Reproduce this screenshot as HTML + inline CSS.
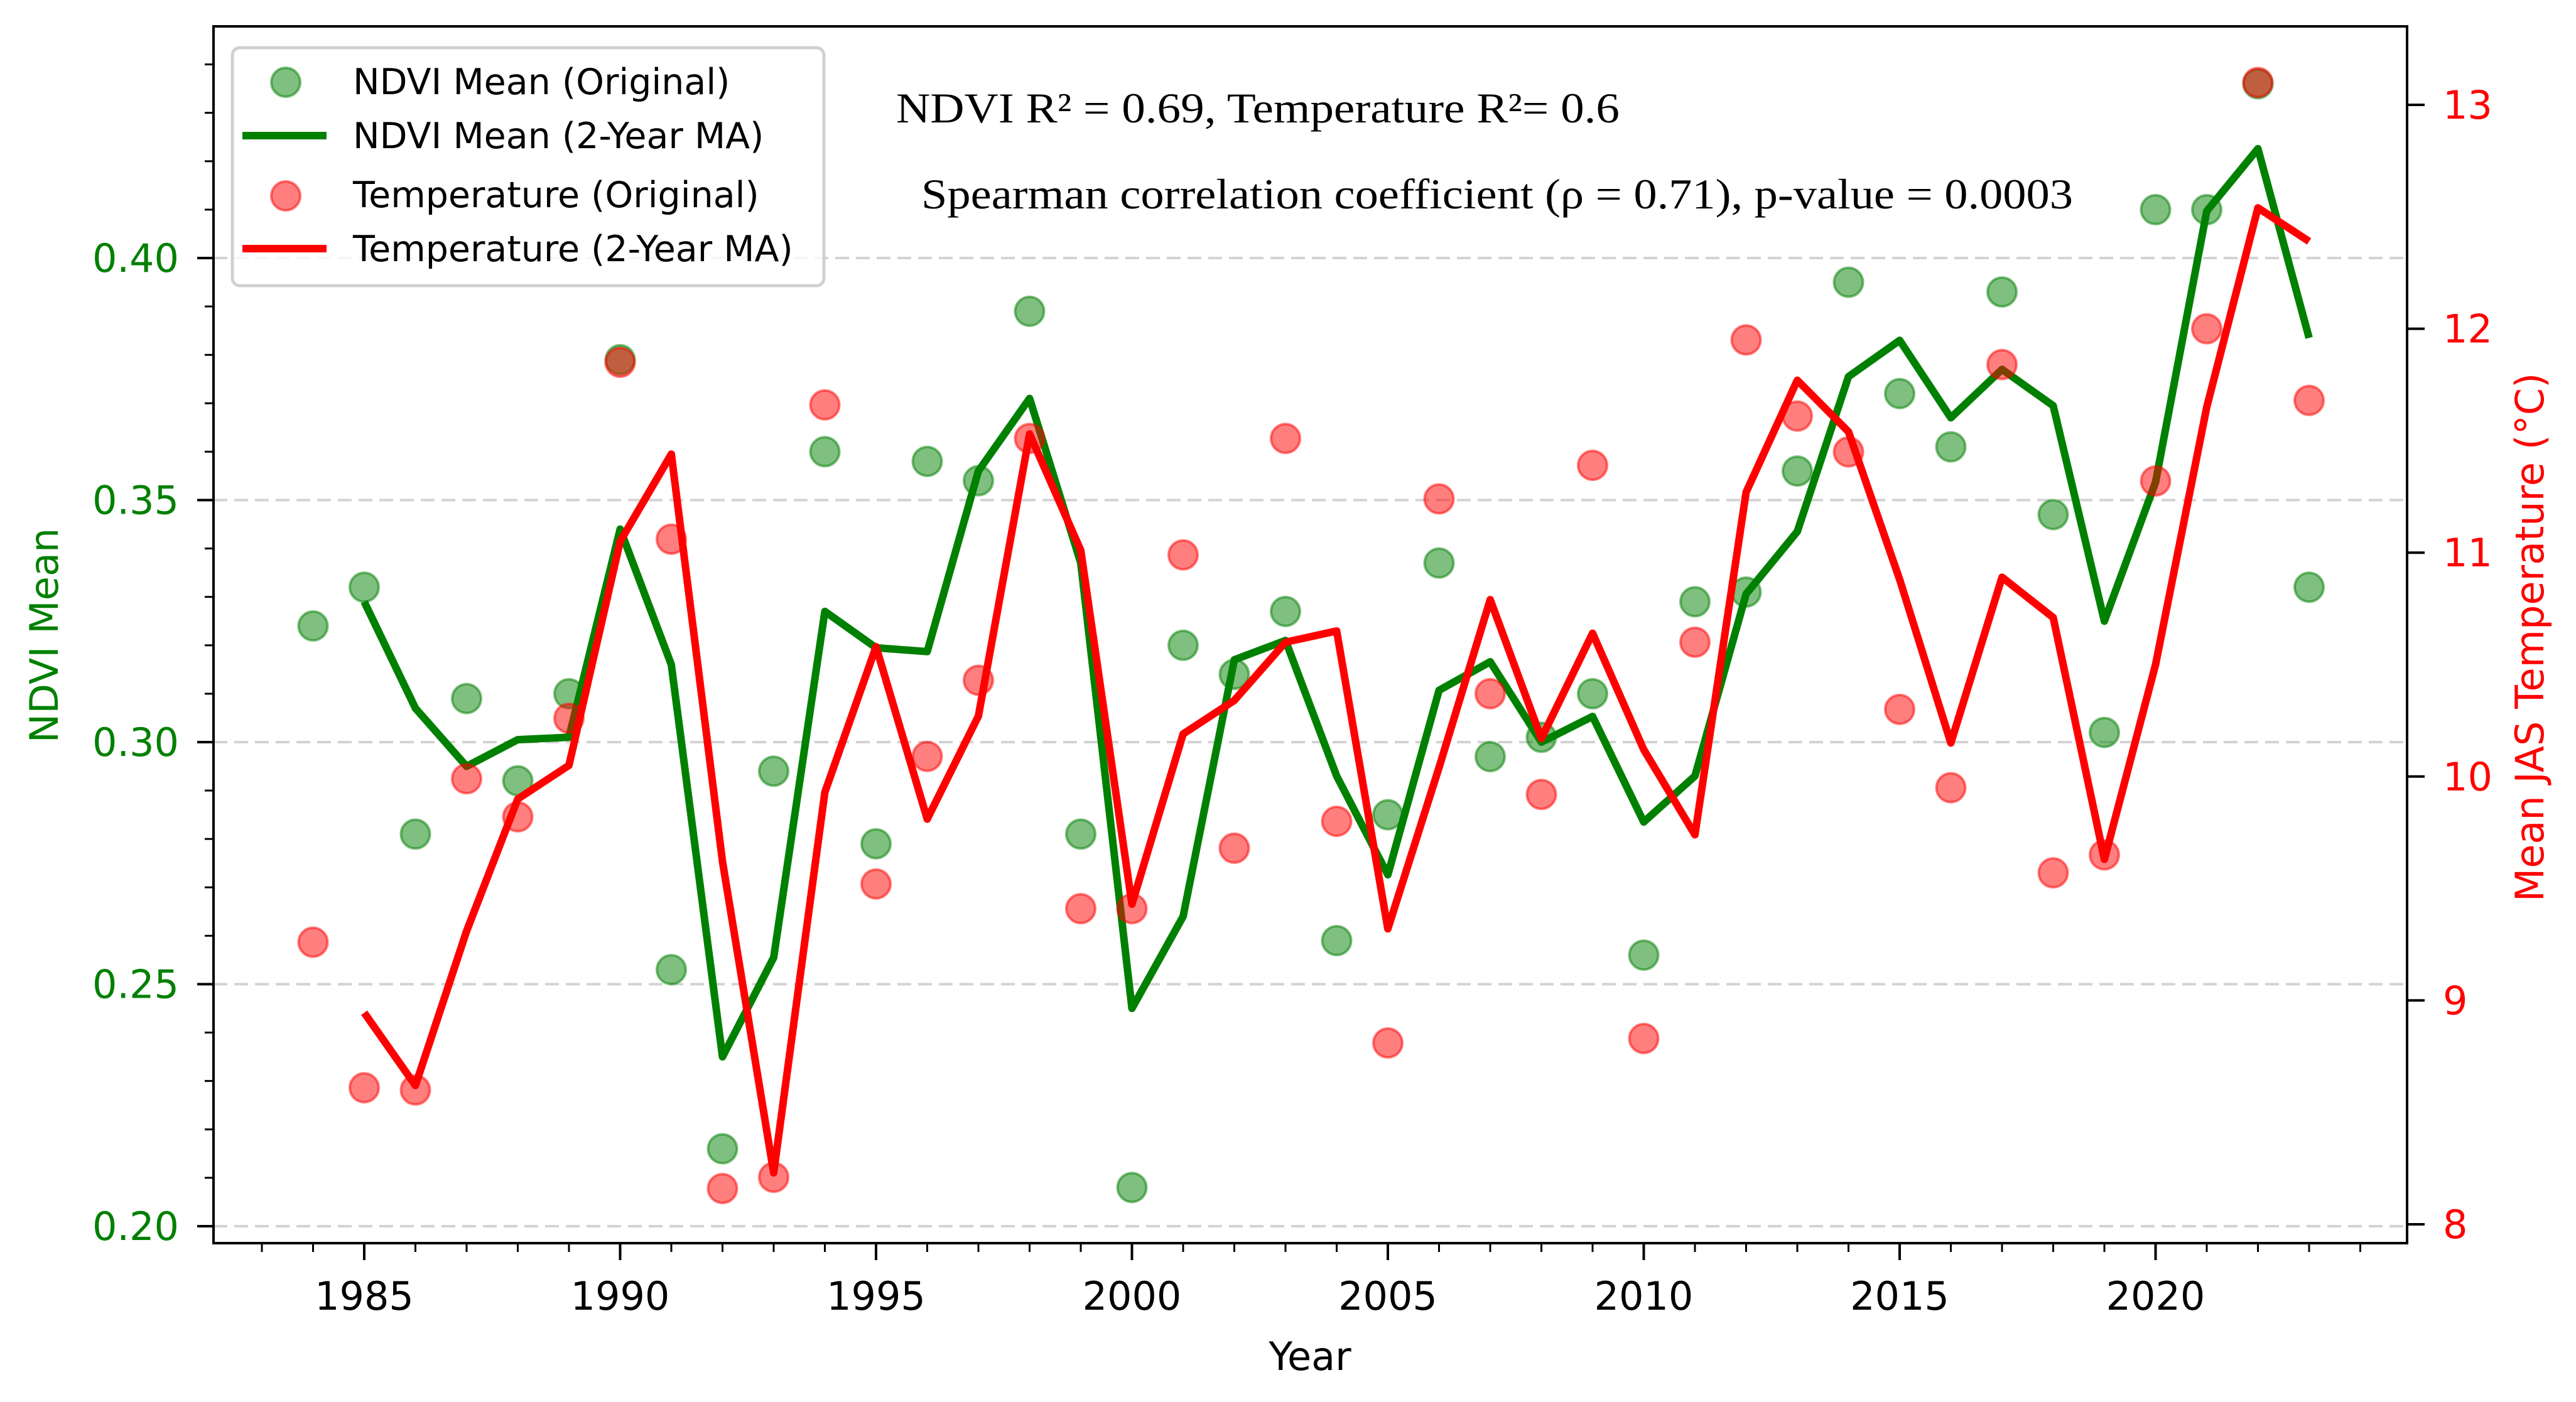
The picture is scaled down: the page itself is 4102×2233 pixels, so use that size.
<!DOCTYPE html>
<html><head><meta charset="utf-8"><style>
html,body{margin:0;padding:0;background:#fff;}
svg{display:block;}
text{font-family:"DejaVu Sans","Liberation Sans",sans-serif;}
text.serif{font-family:"Liberation Serif","DejaVu Serif",serif;}
</style></head><body>
<svg id="chart" xmlns="http://www.w3.org/2000/svg" width="4102" height="2233" viewBox="0 0 4102 2233">
<rect x="0" y="0" width="4102" height="2233" fill="#fff"/>
<g id="grid"></g>
<g id="series"></g>
<g id="axes"></g>
<text class="serif" style="font-family:'Liberation Serif',serif" x="1427" y="195" font-size="68" textLength="1152" lengthAdjust="spacingAndGlyphs" fill="#000">NDVI R² = 0.69, Temperature R²= 0.6</text>
<text class="serif" style="font-family:'Liberation Serif',serif" x="1467" y="332" font-size="68" textLength="1834" lengthAdjust="spacingAndGlyphs" fill="#000">Spearman correlation coefficient (ρ = 0.71), p-value = 0.0003</text>
<text x="2086" y="2182" font-size="62" text-anchor="middle" fill="#000">Year</text>
<text transform="translate(92,1012) rotate(-90)" font-size="62" text-anchor="middle" fill="#008000">NDVI Mean</text>
<text transform="translate(4050,1015) rotate(-90)" font-size="62" text-anchor="middle" fill="#ff0000">Mean JAS Temperature (°C)</text>
<g>
<rect x="370" y="76" width="942" height="379" rx="12" fill="#fff" fill-opacity="0.8" stroke="#d0d0d0" stroke-width="5"/>
<g>
<circle cx="455" cy="131" r="23" fill="#008000" fill-opacity="0.5" stroke="#008000" stroke-opacity="0.5" stroke-width="4"/>
<text x="562" y="150" font-size="57" fill="#000">NDVI Mean (Original)</text></g>
<g>
<line x1="386" y1="216" x2="520" y2="216" stroke="#008000" stroke-width="12"/>
<text x="562" y="236" font-size="57" fill="#000">NDVI Mean (2-Year MA)</text></g>
<g>
<circle cx="455" cy="312" r="23" fill="#ff0000" fill-opacity="0.5" stroke="#ff0000" stroke-opacity="0.5" stroke-width="4"/>
<text x="562" y="330" font-size="57" fill="#000">Temperature (Original)</text></g>
<g>
<line x1="386" y1="396" x2="520" y2="396" stroke="#ff0000" stroke-width="12"/>
<text x="562" y="416" font-size="57" fill="#000">Temperature (2-Year MA)</text></g>
</g>
</svg>
<script>
const years = [1984,1985,1986,1987,1988,1989,1990,1991,1992,1993,1994,1995,1996,1997,1998,1999,2000,2001,2002,2003,2004,2005,2006,2007,2008,2009,2010,2011,2012,2013,2014,2015,2016,2017,2018,2019,2020,2021,2022,2023];
const ndviOriginal = [0.324,0.332,0.281,0.309,0.292,0.310,0.379,0.253,0.216,0.294,0.360,0.279,0.358,0.354,0.389,0.281,0.208,0.320,0.314,0.327,0.259,0.285,0.337,0.297,0.301,0.310,0.256,0.329,0.331,0.356,0.395,0.372,0.361,0.393,0.347,0.302,0.410,0.410,0.436,0.332];
const ndviMA = [null,0.329,0.307,0.295,0.3005,0.301,0.344,0.316,0.235,0.2555,0.327,0.3195,0.3187,0.356,0.371,0.337,0.245,0.264,0.317,0.321,0.293,0.2726,0.3107,0.3166,0.300,0.3053,0.2835,0.293,0.3306,0.3435,0.3755,0.383,0.367,0.377,0.3695,0.325,0.3537,0.4097,0.4226,0.3835];
const tempOriginal = [9.26,8.61,8.60,9.99,9.82,10.26,11.85,11.06,8.16,8.21,11.66,9.52,10.09,10.43,11.51,9.41,9.41,10.99,9.68,11.51,9.80,8.81,11.24,10.37,9.92,11.39,8.83,10.60,11.95,11.61,11.45,10.30,9.95,11.84,9.57,9.65,11.32,12.00,13.10,11.68];
const tempMA = [null,8.945,8.62,9.31,9.90,10.05,11.05,11.44,9.62,8.23,9.93,10.58,9.81,10.27,11.53,11.01,9.43,10.19,10.34,10.60,10.65,9.32,10.04,10.79,10.17,10.64,10.12,9.74,11.27,11.77,11.54,10.88,10.15,10.89,10.71,9.63,10.50,11.65,12.54,12.39];
const xTickLabels = [1985,1990,1995,2000,2005,2010,2015,2020];
const ndviTickLabels = ["0.20","0.25","0.30","0.35","0.40"];
const tempTickLabels = [8,9,10,11,12,13];

const NS = "http://www.w3.org/2000/svg";
const L = 340, R = 3833, T = 42, B = 1980;
function xScale(yr){ return 580 + (yr - 1985) * 81.5; }
function yNdvi(v){ return 1953 - (v - 0.20) / 0.05 * 385.5; }
function yTemp(t){ return 1950 - (t - 8) * 356.6; }
function mk(tag, attrs, parent){ const e = document.createElementNS(NS, tag); for (const k in attrs) e.setAttribute(k, attrs[k]); parent.appendChild(e); return e; }

const grid = document.getElementById('grid');
const series = document.getElementById('series');
const axes = document.getElementById('axes');

ndviTickLabels.forEach(s => {
  const y = yNdvi(parseFloat(s));
  const g = mk('line', {x1:L, x2:R, y1:y, y2:y, stroke:'#d3d3d3', 'stroke-width':4, 'stroke-dasharray':'22 11'}, grid);
  
  
});

function drawLine(vals, yf, color, name){
  let d = '';
  vals.forEach((v,i) => { if (v === null) return; d += (d ? 'L' : 'M') + xScale(years[i]).toFixed(1) + ',' + yf(v).toFixed(1); });
  const p = mk('path', {d:d, fill:'none', stroke:color, 'stroke-width':12, 'stroke-linejoin':'round'}, series);
  
  
}
function drawPts(vals, yf, color, name){
  vals.forEach((v,i) => {
    const c = mk('circle', {cx:xScale(years[i]), cy:yf(v), r:23, fill:color, 'fill-opacity':0.5, stroke:color, 'stroke-opacity':0.5, 'stroke-width':4}, series);
    
    
  });
}
drawPts(ndviOriginal, yNdvi, '#008000', 'ndvi-point');
drawLine(ndviMA, yNdvi, '#008000', 'ndvi-ma-line');
drawPts(tempOriginal, yTemp, '#ff0000', 'temp-point');
drawLine(tempMA, yTemp, '#ff0000', 'temp-ma-line');

const frame = mk('rect', {x:L, y:T, width:R-L, height:B-T, fill:'none', stroke:'#000', 'stroke-width':4}, axes);



for (let yr = 1983; yr <= 2024; yr++) {
  const x = xScale(yr);
  const major = yr % 5 === 0;
  const t = mk('line', {x1:x, x2:x, y1:B, y2:B + (major ? 27 : 14), stroke:'#000', 'stroke-width':major ? 4 : 3}, axes);
  
  
}
xTickLabels.forEach(yr => {
  const t = mk('text', {x:xScale(yr), y:2086, 'font-size':62, 'text-anchor':'middle', fill:'#000'}, axes);
  t.textContent = yr;
  
  
});
for (let k = 20; k <= 44; k++) {
  const y = yNdvi(k / 100);
  const major = k % 5 === 0;
  const t = mk('line', {x1:L - (major ? 26 : 14), x2:L, y1:y, y2:y, stroke:'#000', 'stroke-width':major ? 4 : 3}, axes);
  
  
}
ndviTickLabels.forEach(s => {
  const t = mk('text', {x:285, y:yNdvi(parseFloat(s)) + 22, 'font-size':62, 'text-anchor':'end', fill:'#008000'}, axes);
  t.textContent = s;
  
  
});
tempTickLabels.forEach(v => {
  const y = yTemp(v);
  const t = mk('line', {x1:R, x2:R + 28, y1:y, y2:y, stroke:'#000', 'stroke-width':4}, axes);
  
  
  const l = mk('text', {x:3890, y:y + 22, 'font-size':62, fill:'#ff0000'}, axes);
  l.textContent = v;
  
  
});
</script>
</body></html>
